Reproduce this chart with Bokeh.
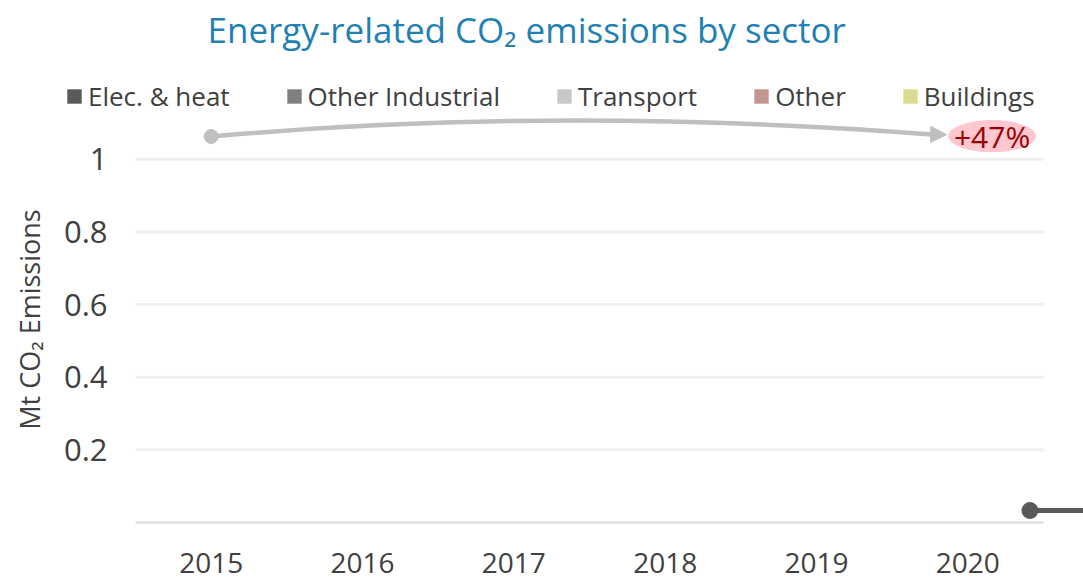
from bokeh.plotting import figure
from bokeh.layouts import column
from bokeh.models import (Legend, LegendItem, FixedTicker, Arrow, NormalHead,
                          Range1d, ColumnDataSource, NumeralTickFormatter, Label)
from bokeh.embed import file_html
from bokeh.resources import INLINE
from bokeh.core.properties import value

# ---- data ----
years = ["2015", "2016", "2017", "2018", "2019", "2020"]
sectors = ["Elec. & heat", "Other Industrial", "Transport", "Other", "Buildings"]
sector_keys = ["elec", "industrial", "transport", "other", "buildings"]
sector_colors = ["#595959", "#7f7f7f", "#c8c8c8", "#c4968f", "#dcdc8e"]
elec = [0, 0, 0, 0, 0, 0]
industrial = [0, 0, 0, 0, 0, 0]
transport = [0, 0, 0, 0, 0, 0]
other = [0, 0, 0, 0, 0, 0]
buildings = [0, 0, 0, 0, 0, 0]
y_ticks = [0.2, 0.4, 0.6, 0.8, 1.0]
title_text = "Energy-related CO₂ emissions by sector"
y_label = "Mt CO₂ Emissions"

# growth arrow (2015 -> 2020)
arrow_start = (0, 1.063)
arrow_ctrl = (2.3, 1.148)
arrow_end = (4.86, 1.068)
growth_label = "+47%"
growth_pos = (5.16, 1.064)

# stray series marker at the right edge
stray_x = [5.41, 6.0]
stray_y = [0.033, 0.033]

FONT = "Open Sans"
TXT = "#404040"
W = 1083
TOP_H = 116

# ---------------- header (title + legend) ----------------
head = figure(width=W, height=TOP_H, output_backend="svg", toolbar_location=None,
              title=None, x_range=Range1d(0, W), y_range=Range1d(TOP_H, 0),
              min_border=0, x_axis_type=None, y_axis_type=None)
head.frame_align = False
head.outline_line_color = None
head.xgrid.visible = False
head.ygrid.visible = False
head.add_layout(Label(x=207, y=29, text=title_text, text_font=FONT,
                      text_font_size="35px", text_color="#1f80b4",
                      text_baseline="middle", text_align="left"))

key_renderers = [head.vbar(x=[0], top=[0], width=0.6, color=c, line_color=None)
                 for c in sector_colors]
legend = Legend(items=[LegendItem(label=s, renderers=[r])
                       for s, r in zip(sectors, key_renderers)],
                orientation="horizontal", location=(65, 2),
                glyph_width=18, glyph_height=18, label_standoff=5, spacing=55,
                label_text_font=FONT, label_text_font_size="26px",
                label_text_color=TXT, border_line_color=None,
                background_fill_alpha=0, padding=0, margin=0)
head.add_layout(legend)

# ---------------- main chart ----------------
x_idx = list(range(len(years)))
src = ColumnDataSource(dict(x=x_idx, elec=elec, industrial=industrial,
                            transport=transport, other=other, buildings=buildings))

p = figure(width=W, height=581 - TOP_H, output_backend="svg", toolbar_location=None,
           title=None, x_range=Range1d(-0.5, 5.764), y_range=Range1d(0, 1.118),
           min_border_left=135, min_border_right=0, min_border_top=0,
           min_border_bottom=59)
p.frame_align = False
p.outline_line_color = None
p.xgrid.visible = False
p.ygrid.visible = False

# gridlines (limited to category span)
p.segment(x0=[-0.5] * len(y_ticks), x1=[len(years) - 0.5] * len(y_ticks),
          y0=y_ticks, y1=y_ticks, line_color="#efefef", line_width=3)

# stacked bars
p.vbar_stack(sector_keys, x="x", width=0.6, source=src,
             color=sector_colors, line_color=None)

# axes
p.xaxis.ticker = FixedTicker(ticks=x_idx)
p.xaxis.major_label_overrides = {i: y for i, y in enumerate(years)}
p.xaxis.bounds = (-0.5, len(years) - 0.5)
p.xaxis.axis_line_color = "#d9d9d9"
p.xaxis.axis_line_width = 2
p.xaxis.major_tick_line_color = None
p.xaxis.minor_tick_line_color = None
p.xaxis.major_tick_out = 0
p.xaxis.major_label_standoff = 30
p.xaxis.major_label_text_font = FONT
p.xaxis.major_label_text_font_size = "28px"
p.xaxis.major_label_text_color = TXT

p.yaxis.ticker = FixedTicker(ticks=y_ticks)
p.yaxis.formatter = NumeralTickFormatter(format="0.[0]")
p.yaxis.axis_line_color = None
p.yaxis.major_tick_line_color = None
p.yaxis.minor_tick_line_color = None
p.yaxis.major_tick_out = 0
p.yaxis.major_label_standoff = 28
p.yaxis.major_label_text_font = FONT
p.yaxis.major_label_text_font_size = "31px"
p.yaxis.major_label_text_color = TXT
p.yaxis.axis_label = y_label
p.yaxis.axis_label_text_font = FONT
p.yaxis.axis_label_text_font_style = "normal"
p.yaxis.axis_label_text_font_size = "27px"
p.yaxis.axis_label_text_color = TXT
p.yaxis.axis_label_standoff = 13

# growth arrow
p.quadratic(x0=[arrow_start[0]], y0=[arrow_start[1]], x1=[arrow_end[0] - 0.08],
            y1=[arrow_end[1]], cx=[arrow_ctrl[0]], cy=[arrow_ctrl[1]],
            line_color="#bfbfbf", line_width=4.5)
p.scatter([arrow_start[0]], [arrow_start[1]], size=14, color="#bfbfbf")
p.add_layout(Arrow(end=NormalHead(size=16, fill_color="#bfbfbf", line_color="#bfbfbf"),
                   x_start=arrow_end[0] - 0.1, y_start=arrow_end[1] + 0.001,
                   x_end=arrow_end[0], y_end=arrow_end[1],
                   line_color="#bfbfbf", line_width=4.5))
p.ellipse(x=[growth_pos[0]], y=[growth_pos[1]], width=88, height=32,
          width_units="screen", height_units="screen",
          fill_color="#ffc7ce", line_color=None)
p.text(x=[growth_pos[0]], y=[growth_pos[1]], text=[growth_label],
       text_font=value(FONT), text_font_size="30px", text_color="#9c0006",
       text_align="center", text_baseline="middle")

# stray series
p.line(stray_x, stray_y, line_color="#595959", line_width=5)
p.scatter(stray_x[:1], stray_y[:1], size=16, color="#595959")

layout = column(head, p, spacing=0)
open("out.html", "w").write(file_html(layout, INLINE))
